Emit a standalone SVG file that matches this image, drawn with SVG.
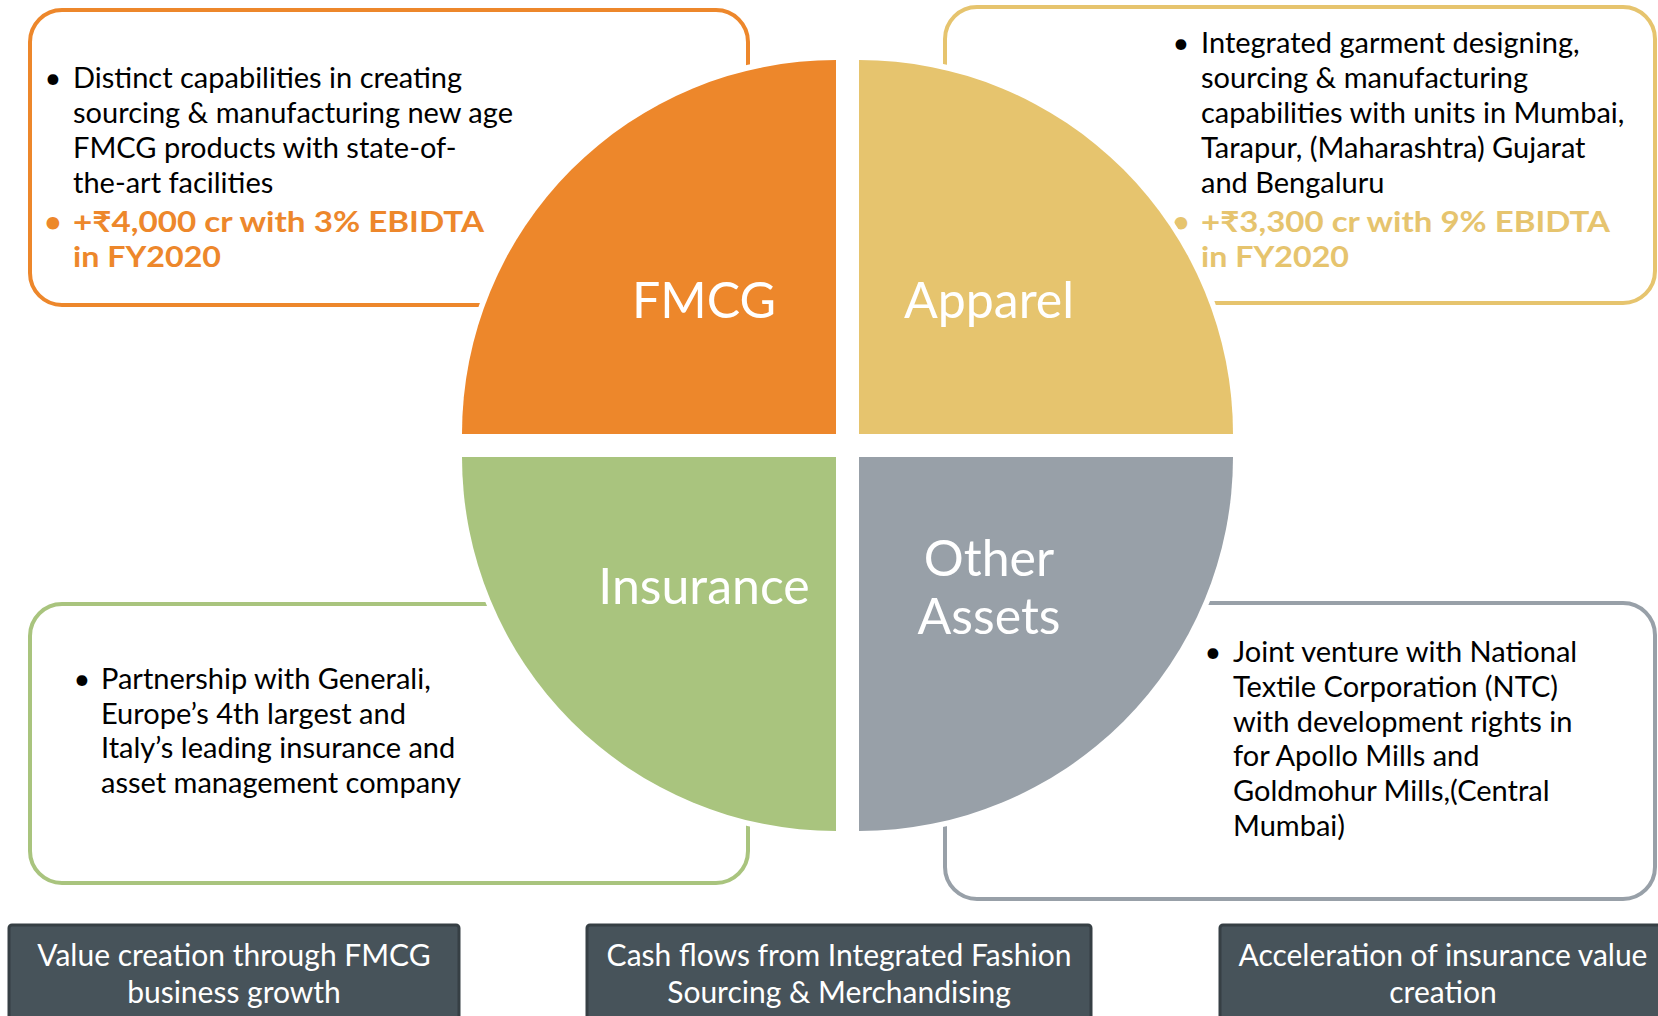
<svg xmlns="http://www.w3.org/2000/svg" width="1658" height="1016" viewBox="0 0 1658 1016">
<style>
.box{fill:#fff;stroke-width:4}
.t{font-family:Lato,"Open Sans","Noto Sans",sans-serif;font-size:29px;fill:#000}
.b{font-weight:bold}
.q{stroke:#fff;stroke-width:11;paint-order:stroke;stroke-linejoin:miter}
.ql{font-family:Lato,"Open Sans","Noto Sans",sans-serif;font-size:50px;fill:#fff;text-anchor:middle}
.dk{fill:#47535A;stroke:#363F44;stroke-width:3}
.dt{font-family:Lato,"Open Sans","Noto Sans",sans-serif;font-size:30px;fill:#fff;text-anchor:middle}
.bu{text-anchor:middle}
.or{fill:#ED872B}
.go{fill:#E6C46E}
</style>
<rect width="1658" height="1016" fill="#fff"/>

<g id="fmcg-box">
<rect class="box" x="30" y="10" width="718" height="295" rx="32" stroke="#ED872B"/>
<text class="t bu" x="53" y="88">•</text>
<text class="t" x="73" y="88">Distinct capabilities in creating</text>
<text class="t" x="73" y="123">sourcing &amp; manufacturing new age</text>
<text class="t" x="73" y="158">FMCG products with state-of-</text>
<text class="t" x="73" y="193">the-art facilities</text>
<text class="t bu b or" x="53" y="232">•</text>
<text class="t b or" x="73" y="232" textLength="411" lengthAdjust="spacingAndGlyphs">+₹4,000 cr with 3% EBIDTA</text>
<text class="t b or" x="73" y="267" textLength="148" lengthAdjust="spacingAndGlyphs">in FY2020</text>
</g>

<g id="apparel-box">
<rect class="box" x="945" y="7" width="710" height="296" rx="32" stroke="#E6C46E"/>
<text class="t bu" x="1181" y="53">•</text>
<text class="t" x="1201" y="53">Integrated garment designing,</text>
<text class="t" x="1201" y="88">sourcing &amp; manufacturing</text>
<text class="t" x="1201" y="123">capabilities with units in Mumbai,</text>
<text class="t" x="1201" y="158">Tarapur, (Maharashtra) Gujarat</text>
<text class="t" x="1201" y="193">and Bengaluru</text>
<text class="t bu b go" x="1181" y="232">•</text>
<text class="t b go" x="1201" y="232" textLength="409" lengthAdjust="spacingAndGlyphs">+₹3,300 cr with 9% EBIDTA</text>
<text class="t b go" x="1201" y="267" textLength="148" lengthAdjust="spacingAndGlyphs">in FY2020</text>
</g>

<g id="insurance-box">
<rect class="box" x="30" y="604" width="718" height="279" rx="32" stroke="#A9C47E"/>
<text class="t bu" x="82" y="689">•</text>
<text class="t" x="101" y="689">Partnership with Generali,</text>
<text class="t" x="101" y="724">Europe’s 4th largest and</text>
<text class="t" x="101" y="758">Italy’s leading insurance and</text>
<text class="t" x="101" y="793">asset management company</text>
</g>

<g id="other-box">
<rect class="box" x="945" y="603" width="710" height="296" rx="32" stroke="#98A0A8"/>
<text class="t bu" x="1213" y="662">•</text>
<text class="t" x="1233" y="662">Joint venture with National</text>
<text class="t" x="1233" y="697">Textile Corporation (NTC)</text>
<text class="t" x="1233" y="732">with development rights in</text>
<text class="t" x="1233" y="766">for Apollo Mills and</text>
<text class="t" x="1233" y="801">Goldmohur Mills,(Central</text>
<text class="t" x="1233" y="836">Mumbai)</text>
</g>

<g id="fmcg">
<path class="q" d="M836,434 L462,434 A374,374 0 0 1 836,60 Z" fill="#ED872B"/>
<text class="ql" x="704" y="318">FMCG</text>
</g>
<g id="apparel">
<path class="q" d="M859,434 L859,60 A374,374 0 0 1 1233,434 Z" fill="#E6C46E"/>
<text class="ql" x="989" y="318">Apparel</text>
</g>
<g id="insurance">
<path class="q" d="M836,457 L836,831 A374,374 0 0 1 462,457 Z" fill="#A9C47E"/>
<text class="ql" x="704" y="604">Insurance</text>
</g>
<g id="other-assets">
<path class="q" d="M859,457 L1233,457 A374,374 0 0 1 859,831 Z" fill="#98A0A8"/>
<text class="ql" x="989" y="576">Other</text>
<text class="ql" x="989" y="634">Assets</text>
</g>

<g id="value-fmcg">
<rect class="dk" x="9" y="925" width="450" height="110" rx="3"/>
<text class="dt" x="234" y="966">Value creation through FMCG</text>
<text class="dt" x="234" y="1003">business growth</text>
</g>
<g id="cash-flows">
<rect class="dk" x="587" y="925" width="504" height="110" rx="3"/>
<text class="dt" x="839" y="966">Cash flows from Integrated Fashion</text>
<text class="dt" x="839" y="1003">Sourcing &amp; Merchandising</text>
</g>
<g id="insurance-value">
<rect class="dk" x="1220" y="925" width="450" height="110" rx="3"/>
<text class="dt" x="1443" y="966">Acceleration of insurance value</text>
<text class="dt" x="1443" y="1003">creation</text>
</g>

<g id="connectors"/>
</svg>
